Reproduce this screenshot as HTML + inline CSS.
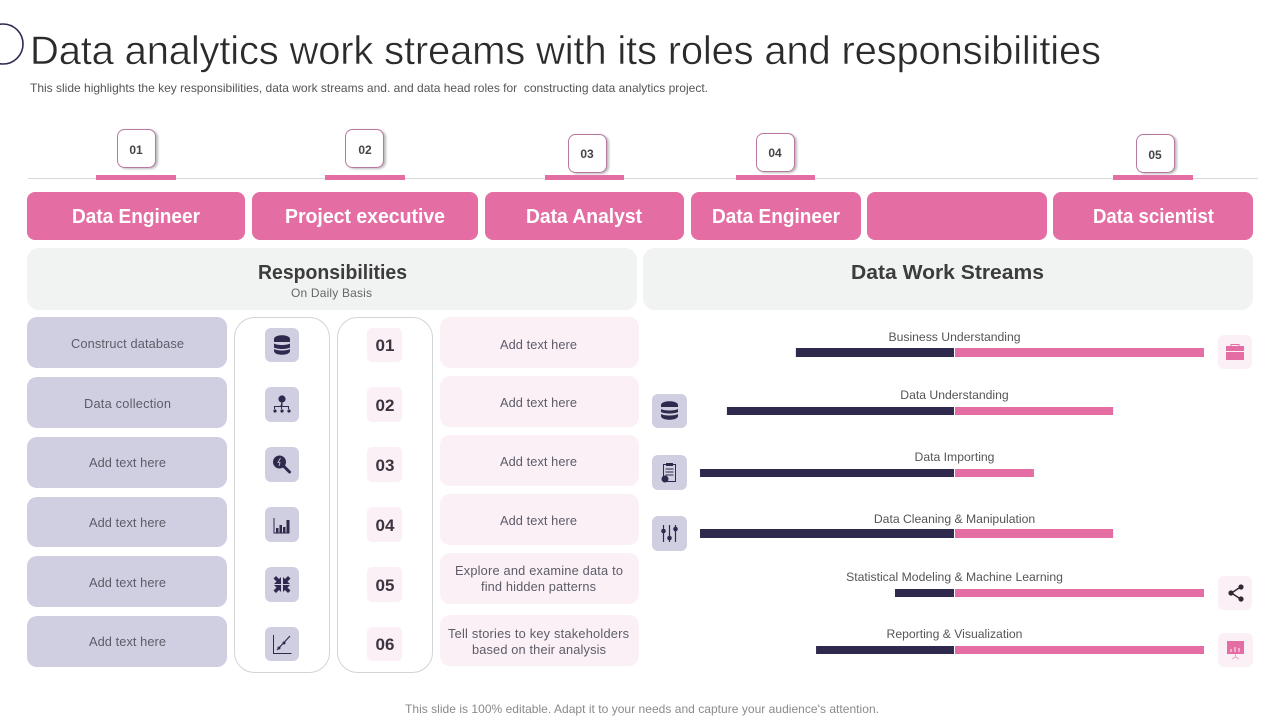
<!DOCTYPE html>
<html lang="en">
<head>
<meta charset="utf-8">
<title>Data analytics work streams</title>
<style>
html,body{margin:0;padding:0;background:#fff;width:1280px;height:720px;overflow:hidden}
svg{display:block}
text{font-family:"Liberation Sans",Arial,sans-serif}
.role{font-size:20px;font-weight:bold;fill:#fff;text-anchor:start}
.head{font-size:20px;font-weight:bold;fill:#3c3c3c}
.co{font-size:12px;font-weight:bold;fill:#444;text-anchor:middle}
.bl{font-size:12.8px;fill:#5c5c68}
.num{font-size:17px;font-weight:bold;fill:#3a3540;text-anchor:middle}
.ib{fill:#d0cfe2}
.pb{fill:#fbf0f6}
.ic{fill:#2f2a4d}
.cobox{fill:#fff;stroke:#b9789f;stroke-width:1;filter:drop-shadow(2px 1px 1px #bbb)}
.wlabel{font-size:12.2px;fill:#555;text-anchor:middle}
</style>
</head>
<body>
<svg xmlns="http://www.w3.org/2000/svg" width="1280" height="720" viewBox="0 0 1280 720">
  <circle cx="3" cy="44" r="20" fill="none" stroke="#2f2a4d" stroke-width="1.6"/>
  <text x="30" y="64" font-size="40" fill="#2b2b2b" stroke="#fff" stroke-width="0.5" textLength="1071" lengthAdjust="spacing">Data analytics work streams with its roles and responsibilities</text>
  <text x="30" y="92" font-size="12" fill="#555" textLength="678" lengthAdjust="spacing">This slide highlights the key responsibilities, data work streams and. and data head roles for&#160; constructing data analytics project.</text>

  <line x1="28" y1="178.500" x2="1258" y2="178.500" stroke="#d9d9d9" stroke-width="1"/>
  <rect x="96" y="175" width="80" height="5" fill="#e46ea3"/>
  <rect x="325" y="175" width="80" height="5" fill="#e46ea3"/>
  <rect x="545" y="175" width="79" height="5" fill="#e46ea3"/>
  <rect x="736" y="175" width="79" height="5" fill="#e46ea3"/>
  <rect x="1113" y="175" width="80" height="5" fill="#e46ea3"/>

  <rect class="cobox" x="117.500" y="129.500" width="38" height="38" rx="7"/>
  <text class="co" x="136" y="154">01</text>
  <rect class="cobox" x="345.500" y="129.500" width="38" height="38" rx="7"/>
  <text class="co" x="365" y="154">02</text>
  <rect class="cobox" x="568.500" y="134.500" width="38" height="38" rx="7"/>
  <text class="co" x="587" y="158">03</text>
  <rect class="cobox" x="756.500" y="133.500" width="38" height="38" rx="7"/>
  <text class="co" x="775" y="157">04</text>
  <rect class="cobox" x="1136.500" y="134.500" width="38" height="38" rx="7"/>
  <text class="co" x="1155" y="159">05</text>

  <rect x="27" y="192" width="218" height="48" rx="8" fill="#e46ea3"/>
  <rect x="252" y="192" width="226" height="48" rx="8" fill="#e46ea3"/>
  <rect x="485" y="192" width="199" height="48" rx="8" fill="#e46ea3"/>
  <rect x="691" y="192" width="170" height="48" rx="8" fill="#e46ea3"/>
  <rect x="867" y="192" width="180" height="48" rx="8" fill="#e46ea3"/>
  <rect x="1053" y="192" width="200" height="48" rx="8" fill="#e46ea3"/>
  <text class="role" x="72" y="223" textLength="128" lengthAdjust="spacingAndGlyphs">Data Engineer</text>
  <text class="role" x="285" y="223" textLength="160" lengthAdjust="spacingAndGlyphs">Project executive</text>
  <text class="role" x="526" y="223" textLength="116" lengthAdjust="spacingAndGlyphs">Data Analyst</text>
  <text class="role" x="712" y="223" textLength="128" lengthAdjust="spacingAndGlyphs">Data Engineer</text>
  <text class="role" x="1093" y="223" textLength="121" lengthAdjust="spacingAndGlyphs">Data scientist</text>

  <rect x="27" y="248" width="610" height="62" rx="12" fill="#f1f2f2"/>
  <rect x="643" y="248" width="610" height="62" rx="12" fill="#f1f2f2"/>
  <text class="head" x="258" y="279" textLength="149" lengthAdjust="spacingAndGlyphs">Responsibilities</text>
  <text x="291" y="297" font-size="12" fill="#666" textLength="81" lengthAdjust="spacing">On Daily Basis</text>
  <text class="head" x="851" y="279" textLength="193" lengthAdjust="spacingAndGlyphs">Data Work Streams</text>

  <!-- left responsibility boxes -->
  <rect class="ib" x="27" y="317" width="200" height="51" rx="10"/>
  <rect class="ib" x="27" y="377" width="200" height="51" rx="10"/>
  <rect class="ib" x="27" y="437" width="200" height="51" rx="10"/>
  <rect class="ib" x="27" y="497" width="200" height="50" rx="10"/>
  <rect class="ib" x="27" y="556" width="200" height="51" rx="10"/>
  <rect class="ib" x="27" y="616" width="200" height="51" rx="10"/>
  <text class="bl" x="71" y="348" textLength="113" lengthAdjust="spacing">Construct database</text>
  <text class="bl" x="84" y="408" textLength="87" lengthAdjust="spacing">Data collection</text>
  <text class="bl" x="89" y="467" textLength="77" lengthAdjust="spacing">Add text here</text>
  <text class="bl" x="89" y="527" textLength="77" lengthAdjust="spacing">Add text here</text>
  <text class="bl" x="89" y="587" textLength="77" lengthAdjust="spacing">Add text here</text>
  <text class="bl" x="89" y="646" textLength="77" lengthAdjust="spacing">Add text here</text>

  <!-- columns -->
  <rect x="234.500" y="317.500" width="95" height="355" rx="20" fill="#fff" stroke="#d4d4d8"/>
  <rect x="337.500" y="317.500" width="95" height="355" rx="20" fill="#fff" stroke="#d4d4d8"/>

  <rect class="ib" x="265" y="328" width="34" height="34" rx="6"/>
  <rect class="ib" x="265" y="387" width="34" height="35" rx="6"/>
  <rect class="ib" x="265" y="447" width="34" height="35" rx="6"/>
  <rect class="ib" x="265" y="507" width="34" height="35" rx="6"/>
  <rect class="ib" x="265" y="567" width="34" height="35" rx="6"/>
  <rect class="ib" x="265" y="627" width="34" height="34" rx="6"/>

  <g class="ic">
    <path d="M274 339c0-5 16-5 16 0v3h-16zM274 343.500c3 2 13 2 16 0v4c-3 2-13 2-16 0zM274 349c3 2 13 2 16 0v2c0 5-16 5-16 0z"/>
  </g>
  <g class="ic">
    <circle cx="282" cy="399" r="3.600"/>
    <path d="M281.500 402h1v4h6.500v3h-1v-2h-6v2h-1v-2h-6v2h-1v-3h6.500z"/>
    <circle cx="275" cy="411" r="1.600"/><circle cx="282" cy="411" r="1.600"/><circle cx="289" cy="411" r="1.600"/>
  </g>
  <g class="ic">
    <circle cx="279.500" cy="462" r="6.500"/>
    <path d="M284.500 467l5 5" stroke="#2f2a4d" stroke-width="3" stroke-linecap="round"/>
    <path d="M280.500 458l-2.500 4.500h2l-1 3.500" fill="none" stroke="#d0cfe2" stroke-width="0.800"/>
  </g>
  <g class="ic">
    <path d="M273.500 518h1v14.500h15v1h-16z"/>
    <rect x="276" y="528" width="2.500" height="5"/><rect x="279.500" y="525" width="2.500" height="8"/><rect x="283" y="527" width="2.500" height="6"/><rect x="286.500" y="520" width="3" height="13"/>
  </g>
  <g class="ic">
    <path id="arrow-nw" d="M281 584h-7l2.500-2.500-3-3 2.500-2.500 3 3 2-2z"/>
    <path d="M281 584h-7l2.500-2.500-3-3 2.500-2.500 3 3 2-2z" transform="translate(564,0) scale(-1,1)"/>
    <path d="M281 584h-7l2.500-2.500-3-3 2.500-2.500 3 3 2-2z" transform="translate(0,1169) scale(1,-1)"/>
    <path d="M281 584h-7l2.500-2.500-3-3 2.500-2.500 3 3 2-2z" transform="translate(564,1169) scale(-1,-1)"/>
  </g>
  <g>
    <path d="M273.500 635v18.500h18" fill="none" stroke="#2f2a4d" stroke-width="1"/>
    <path d="M277 650l13-14" fill="none" stroke="#2f2a4d" stroke-width="1.200"/>
    <circle cx="279" cy="648" r="1.500" fill="#2f2a4d"/><circle cx="284" cy="643" r="1.500" fill="#2f2a4d"/>
  </g>

  <rect class="pb" x="367" y="328" width="35" height="34" rx="5"/>
  <rect class="pb" x="367" y="387" width="35" height="35" rx="5"/>
  <rect class="pb" x="367" y="447" width="35" height="35" rx="5"/>
  <rect class="pb" x="367" y="507" width="35" height="35" rx="5"/>
  <rect class="pb" x="367" y="567" width="35" height="35" rx="5"/>
  <rect class="pb" x="367" y="627" width="35" height="34" rx="5"/>
  <text class="num" x="385" y="351">01</text>
  <text class="num" x="385" y="411">02</text>
  <text class="num" x="385" y="471">03</text>
  <text class="num" x="385" y="531">04</text>
  <text class="num" x="385" y="591">05</text>
  <text class="num" x="385" y="650">06</text>

  <!-- right text boxes -->
  <rect class="pb" x="440" y="317" width="199" height="51" rx="10"/>
  <rect class="pb" x="440" y="376" width="199" height="51" rx="10"/>
  <rect class="pb" x="440" y="435" width="199" height="51" rx="10"/>
  <rect class="pb" x="440" y="494" width="199" height="51" rx="10"/>
  <rect class="pb" x="440" y="553" width="199" height="51" rx="10"/>
  <rect class="pb" x="440" y="615" width="199" height="51" rx="10"/>
  <text class="bl" x="500" y="349" textLength="77" lengthAdjust="spacing">Add text here</text>
  <text class="bl" x="500" y="407" textLength="77" lengthAdjust="spacing">Add text here</text>
  <text class="bl" x="500" y="466" textLength="77" lengthAdjust="spacing">Add text here</text>
  <text class="bl" x="500" y="525" textLength="77" lengthAdjust="spacing">Add text here</text>
  <text class="bl" x="455" y="575" textLength="168" lengthAdjust="spacing">Explore and examine data to</text>
  <text class="bl" x="481" y="591" textLength="115" lengthAdjust="spacing">find hidden patterns</text>
  <text class="bl" x="448" y="638" textLength="181" lengthAdjust="spacing">Tell stories to key stakeholders</text>
  <text class="bl" x="472" y="654" textLength="134" lengthAdjust="spacing">based on their analysis</text>

  <!-- side icons of the work stream chart -->
  <rect class="ib" x="652" y="394" width="35" height="34" rx="6"/>
  <rect class="ib" x="652" y="455" width="35" height="35" rx="6"/>
  <rect class="ib" x="652" y="516" width="35" height="35" rx="6"/>
  <g class="ic">
    <path d="M661 405c0-5 17-5 17 0v2h-17zM661 409c3 2 14 2 17 0v3c-3 2-14 2-17 0zM661 414c3 2 14 2 17 0v2c0 5-17 5-17 0z"/>
  </g>
  <g>
    <rect x="663.500" y="464.500" width="12" height="17" fill="none" stroke="#2f2a4d"/>
    <rect x="666" y="463" width="7" height="3" fill="#2f2a4d"/>
    <path d="M665.500 469h8M665.500 472h8M665.500 475h8" stroke="#2f2a4d" stroke-width="1"/>
    <circle cx="665" cy="479" r="3.500" fill="#2f2a4d"/>
  </g>
  <g>
    <path d="M663.500 525v17M669.500 525v17M675.500 525v17" stroke="#2f2a4d" stroke-width="1.200"/>
    <circle cx="663.500" cy="531" r="2.300" fill="#2f2a4d"/><circle cx="669.500" cy="538" r="2.300" fill="#2f2a4d"/><circle cx="675.500" cy="529" r="2.300" fill="#2f2a4d"/>
  </g>
  <rect class="pb" x="1218" y="335" width="34" height="34" rx="6"/>
  <rect class="pb" x="1218" y="576" width="34" height="34" rx="6"/>
  <rect class="pb" x="1218" y="633" width="35" height="34" rx="6"/>
  <g>
    <rect x="1226" y="346" width="18" height="14" fill="#e46ea3"/>
    <path d="M1231 346v-1.500h8v1.500" fill="none" stroke="#e46ea3" stroke-width="1"/>
    <rect x="1226" y="351" width="18" height="1" fill="#fbf0f6"/>
  </g>
  <g>
    <path d="M1240.500 587l-9 6 9 6" fill="none" stroke="#2f2a33" stroke-width="1.500"/>
    <circle cx="1241" cy="587" r="2.600" fill="#2f2a33"/><circle cx="1231" cy="593" r="2.600" fill="#2f2a33"/><circle cx="1241" cy="599" r="2.600" fill="#2f2a33"/>
  </g>
  <g>
    <rect x="1227" y="641" width="17" height="13" fill="#e46ea3"/>
    <path d="M1235.500 654v3M1232 659l3.500-2 3.500 2" fill="none" stroke="#e9a0c4" stroke-width="1"/>
    <path d="M1231 652v-3M1235 652v-5M1239 652v-4" stroke="#fbf0f6" stroke-width="1"/>
  </g>

  <!-- diverging chart rows; each row's position is set here, marks are drawn from the data -->
  <g id="stream-chart">
    <g class="row" transform="translate(0,348)" data-label-dy="-7" data-bar-h="9"></g>
    <g class="row" transform="translate(0,407)" data-label-dy="-8" data-bar-h="8"></g>
    <g class="row" transform="translate(0,469)" data-label-dy="-8" data-bar-h="8"></g>
    <g class="row" transform="translate(0,529)" data-label-dy="-6" data-bar-h="9"></g>
    <g class="row" transform="translate(0,589)" data-label-dy="-8" data-bar-h="8"></g>
    <g class="row" transform="translate(0,646)" data-label-dy="-8" data-bar-h="8"></g>
  </g>

  <text x="642" y="713" font-size="12" fill="#8a8a8a" text-anchor="middle" textLength="474" lengthAdjust="spacing">This slide is 100% editable. Adapt it to your needs and capture your audience's attention.</text>
</svg>
<script>
const categories = ["Business Understanding", "Data Understanding", "Data Importing", "Data Cleaning & Manipulation", "Statistical Modeling & Machine Learning", "Reporting & Visualization"];
const leftValues = [63.5, 91.2, 102, 102, 23.7, 55.4];
const rightValues = [100, 63.5, 31.7, 63.5, 100, 100];

const NS = "http://www.w3.org/2000/svg";
const zeroX = 954.5;
const pxPerUnit = 2.49;
function xLeft(v) { return zeroX - 0.5 - v * pxPerUnit; }
function xRight(v) { return zeroX + 0.5 + v * pxPerUnit; }

const rows = document.querySelectorAll("#stream-chart .row");
categories.forEach(function (name, i) {
  const row = rows[i];
  const h = Number(row.getAttribute("data-bar-h"));

  const label = document.createElementNS(NS, "text");
  label.setAttribute("class", "wlabel");
  label.setAttribute("x", zeroX);
  label.setAttribute("y", row.getAttribute("data-label-dy"));
  label.textContent = name;
  
  
  row.appendChild(label);

  const left = document.createElementNS(NS, "rect");
  left.setAttribute("x", xLeft(leftValues[i]));
  left.setAttribute("y", 0);
  left.setAttribute("width", xLeft(0) - xLeft(leftValues[i]));
  left.setAttribute("height", h);
  left.setAttribute("fill", "#2f2a4d");
  
  
  row.appendChild(left);

  const right = document.createElementNS(NS, "rect");
  right.setAttribute("x", xRight(0));
  right.setAttribute("y", 0);
  right.setAttribute("width", xRight(rightValues[i]) - xRight(0));
  right.setAttribute("height", h);
  right.setAttribute("fill", "#e46ea3");
  
  
  row.appendChild(right);
});
</script>
</body>
</html>
